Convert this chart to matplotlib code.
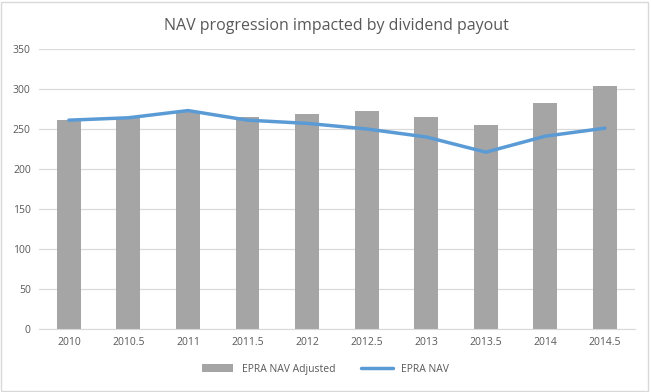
import numpy as np
import matplotlib.pyplot as plt
from matplotlib.patches import Rectangle

# data
periodos = ["2010", "2010.5", "2011", "2011.5", "2012", "2012.5", "2013", "2013.5", "2014", "2014.5"]
nav_ajustado = [261, 265, 273, 265, 269, 272, 265, 255, 283, 304]
nav_epra = [261, 264, 273, 261, 257, 250, 240, 221, 241, 251]

plt.rcParams['font.family'] = ['Open Sans', 'DejaVu Sans']

fig = plt.figure(figsize=(6.51, 3.92), dpi=100)
ax = fig.add_axes([0.060, 0.161, 0.915, 0.714])

x = np.arange(len(periodos))
barras = ax.bar(x, nav_ajustado, width=0.4, color="#a5a5a5", label="EPRA NAV Adjusted", zorder=2)
linea, = ax.plot(x, nav_epra, color="#5b9bd5", linewidth=2.5, label="EPRA NAV", zorder=3,
                 solid_capstyle="round", solid_joinstyle="round")

ax.set_xlim(-0.5, len(periodos) - 0.5)
ax.set_ylim(0, 350)
ax.set_yticks(np.arange(0, 351, 50))
ax.set_xticks(x)
ax.set_xticklabels(periodos)
ax.grid(axis="y", color="#d9d9d9", linewidth=0.9, zorder=0)
ax.tick_params(axis="both", length=0, labelsize=7.5, colors="#595959", pad=6)
for s in ["top", "right", "left"]:
    ax.spines[s].set_visible(False)
ax.spines["bottom"].set_color("#d9d9d9")

ax.set_title("NAV progression impacted by dividend payout", fontsize=11.5, color="#595959", pad=14)

fig.legend(handles=[barras, linea], loc="lower center", bbox_to_anchor=(0.5, 0.02), ncol=2,
           frameon=False, fontsize=7.5, labelcolor="#595959", handlelength=3, columnspacing=2.5)

# thin border around the chart
fig.patches.append(Rectangle((0.002, 0.003), 0.994, 0.993, transform=fig.transFigure,
                             fill=False, edgecolor="#d9d9d9", linewidth=1))

fig.savefig("out.png", dpi=100)
